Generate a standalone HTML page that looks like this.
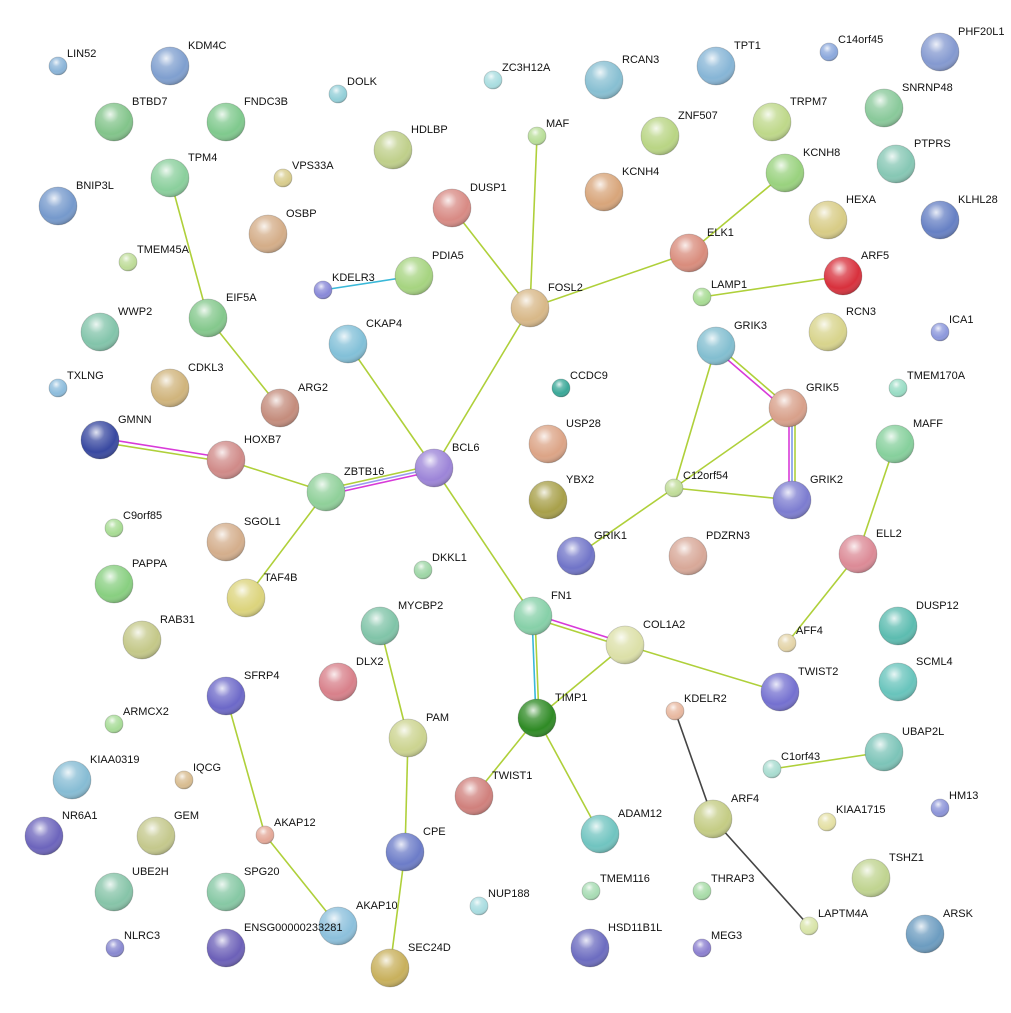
<!DOCTYPE html>
<html><head><meta charset="utf-8"><style>
html,body{margin:0;padding:0;background:#fff;}
svg{display:block;}
text{font-family:"Liberation Sans",sans-serif;font-size:11px;fill:#111;}
</style></head><body>
<svg width="1011" height="1013" viewBox="0 0 1011 1013" xmlns="http://www.w3.org/2000/svg">
<defs>
<radialGradient id="s" cx="40%" cy="30%" r="75%">
<stop offset="0" stop-color="#fff" stop-opacity="0.85"/>
<stop offset="0.3" stop-color="#fff" stop-opacity="0.25"/>
<stop offset="0.7" stop-color="#fff" stop-opacity="0"/>
<stop offset="1" stop-color="#000" stop-opacity="0.3"/>
</radialGradient>
</defs>
<g stroke="#afd03a" stroke-width="1.6" fill="none">
<line x1="537" y1="136" x2="530" y2="308"/>
<line x1="452" y1="208" x2="530" y2="308"/>
<line x1="689" y1="253" x2="530" y2="308"/>
<line x1="689" y1="253" x2="785" y2="173"/>
<line x1="530" y1="308" x2="434" y2="468"/>
<line x1="702" y1="297" x2="843" y2="276"/>
<line x1="170" y1="178" x2="208" y2="318"/>
<line x1="208" y1="318" x2="280" y2="408"/>
<line x1="348" y1="344" x2="434" y2="468"/>
<line x1="100" y1="442" x2="226" y2="462"/>
<line x1="226" y1="460" x2="326" y2="492"/>
<line x1="326" y1="489" x2="434" y2="465"/>
<line x1="326" y1="492" x2="246" y2="598"/>
<line x1="434" y1="468" x2="533" y2="616"/>
<line x1="718" y1="346" x2="790" y2="408"/>
<line x1="795" y1="408" x2="795" y2="500"/>
<line x1="716" y1="346" x2="674" y2="488"/>
<line x1="788" y1="408" x2="674" y2="488"/>
<line x1="674" y1="488" x2="792" y2="500"/>
<line x1="674" y1="488" x2="576" y2="556"/>
<line x1="895" y1="444" x2="858" y2="554"/>
<line x1="858" y1="554" x2="787" y2="643"/>
<line x1="533" y1="618" x2="625" y2="647"/>
<line x1="535" y1="616" x2="539" y2="718"/>
<line x1="625" y1="645" x2="537" y2="718"/>
<line x1="625" y1="645" x2="780" y2="692"/>
<line x1="537" y1="718" x2="474" y2="796"/>
<line x1="537" y1="718" x2="600" y2="834"/>
<line x1="380" y1="626" x2="408" y2="738"/>
<line x1="408" y1="738" x2="405" y2="852"/>
<line x1="405" y1="852" x2="390" y2="968"/>
<line x1="226" y1="696" x2="265" y2="835"/>
<line x1="265" y1="835" x2="338" y2="926"/>
<line x1="772" y1="769" x2="884" y2="752"/>
</g>
<g stroke-width="1.6" fill="none">
<line x1="323" y1="290" x2="414" y2="276" stroke="#3ab8d8"/>
<line x1="100" y1="438" x2="226" y2="458" stroke="#d83ad8"/>
<line x1="326" y1="492" x2="434" y2="468" stroke="#9a9af0"/>
<line x1="326" y1="495" x2="434" y2="471" stroke="#d83ad8"/>
<line x1="714" y1="348" x2="786" y2="410" stroke="#d83ad8"/>
<line x1="789" y1="408" x2="789" y2="500" stroke="#d83ad8"/>
<line x1="792" y1="408" x2="792" y2="500" stroke="#7f9ae8"/>
<line x1="533" y1="614" x2="625" y2="643" stroke="#d83ad8"/>
<line x1="532" y1="616" x2="536" y2="718" stroke="#3ab8d8"/>
<line x1="675" y1="711" x2="713" y2="819" stroke="#444"/>
<line x1="713" y1="819" x2="809" y2="926" stroke="#444"/>
</g>
<g stroke="rgba(0,0,0,0.2)" stroke-width="0.8">
<circle cx="58" cy="66" r="9" fill="#8ab4d8"/>
<circle cx="170" cy="66" r="19" fill="#7f9fcf"/>
<circle cx="338" cy="94" r="9" fill="#93cfd8"/>
<circle cx="493" cy="80" r="9" fill="#a9dde0"/>
<circle cx="604" cy="80" r="19" fill="#87bfd2"/>
<circle cx="716" cy="66" r="19" fill="#86b5d6"/>
<circle cx="829" cy="52" r="9" fill="#8ba8dc"/>
<circle cx="940" cy="52" r="19" fill="#8499d0"/>
<circle cx="114" cy="122" r="19" fill="#82c48a"/>
<circle cx="226" cy="122" r="19" fill="#7fc98d"/>
<circle cx="283" cy="178" r="9" fill="#d8cc8c"/>
<circle cx="393" cy="150" r="19" fill="#bfcf8a"/>
<circle cx="537" cy="136" r="9" fill="#b8de98"/>
<circle cx="660" cy="136" r="19" fill="#b9d584"/>
<circle cx="772" cy="122" r="19" fill="#bed889"/>
<circle cx="884" cy="108" r="19" fill="#89c99a"/>
<circle cx="170" cy="178" r="19" fill="#8acf9c"/>
<circle cx="604" cy="192" r="19" fill="#d8a57a"/>
<circle cx="785" cy="173" r="19" fill="#99d27e"/>
<circle cx="896" cy="164" r="19" fill="#86c7b4"/>
<circle cx="58" cy="206" r="19" fill="#7599cc"/>
<circle cx="452" cy="208" r="19" fill="#d88a84"/>
<circle cx="268" cy="234" r="19" fill="#d4ad88"/>
<circle cx="828" cy="220" r="19" fill="#d8cc86"/>
<circle cx="940" cy="220" r="19" fill="#6680c4"/>
<circle cx="128" cy="262" r="9" fill="#bedc98"/>
<circle cx="323" cy="290" r="9" fill="#8888d8"/>
<circle cx="414" cy="276" r="19" fill="#a6d480"/>
<circle cx="689" cy="253" r="19" fill="#d98c7c"/>
<circle cx="843" cy="276" r="19" fill="#d8303c"/>
<circle cx="702" cy="297" r="9" fill="#a8dc94"/>
<circle cx="530" cy="308" r="19" fill="#d8b888"/>
<circle cx="208" cy="318" r="19" fill="#84c88c"/>
<circle cx="100" cy="332" r="19" fill="#82c4aa"/>
<circle cx="348" cy="344" r="19" fill="#82c0d8"/>
<circle cx="716" cy="346" r="19" fill="#82bed0"/>
<circle cx="828" cy="332" r="19" fill="#d8d48c"/>
<circle cx="940" cy="332" r="9" fill="#8c98dc"/>
<circle cx="58" cy="388" r="9" fill="#8cbcdc"/>
<circle cx="170" cy="388" r="19" fill="#d0b47c"/>
<circle cx="561" cy="388" r="9" fill="#3aa898"/>
<circle cx="898" cy="388" r="9" fill="#98dcc4"/>
<circle cx="280" cy="408" r="19" fill="#c48c7c"/>
<circle cx="788" cy="408" r="19" fill="#d8a08a"/>
<circle cx="100" cy="440" r="19" fill="#3848a0"/>
<circle cx="226" cy="460" r="19" fill="#d08a88"/>
<circle cx="548" cy="444" r="19" fill="#dca486"/>
<circle cx="895" cy="444" r="19" fill="#86d09c"/>
<circle cx="434" cy="468" r="19" fill="#9c84d8"/>
<circle cx="326" cy="492" r="19" fill="#8fd099"/>
<circle cx="548" cy="500" r="19" fill="#a8a04a"/>
<circle cx="674" cy="488" r="9" fill="#c0dc98"/>
<circle cx="792" cy="500" r="19" fill="#7c7cd0"/>
<circle cx="114" cy="528" r="9" fill="#a8dc94"/>
<circle cx="226" cy="542" r="19" fill="#d4ae8c"/>
<circle cx="576" cy="556" r="19" fill="#7074c8"/>
<circle cx="688" cy="556" r="19" fill="#d8a898"/>
<circle cx="858" cy="554" r="19" fill="#dc8a96"/>
<circle cx="423" cy="570" r="9" fill="#9ed6a6"/>
<circle cx="114" cy="584" r="19" fill="#88cf80"/>
<circle cx="246" cy="598" r="19" fill="#dcd47c"/>
<circle cx="533" cy="616" r="19" fill="#86d0a8"/>
<circle cx="625" cy="645" r="19" fill="#dce0a8"/>
<circle cx="380" cy="626" r="19" fill="#80c4a8"/>
<circle cx="898" cy="626" r="19" fill="#5cbcb0"/>
<circle cx="142" cy="640" r="19" fill="#c4c888"/>
<circle cx="787" cy="643" r="9" fill="#e4d4a8"/>
<circle cx="338" cy="682" r="19" fill="#d8808a"/>
<circle cx="226" cy="696" r="19" fill="#6c68c8"/>
<circle cx="780" cy="692" r="19" fill="#7470d0"/>
<circle cx="898" cy="682" r="19" fill="#68c4bc"/>
<circle cx="114" cy="724" r="9" fill="#a8dc98"/>
<circle cx="408" cy="738" r="19" fill="#ccd490"/>
<circle cx="537" cy="718" r="19" fill="#2e8a24"/>
<circle cx="675" cy="711" r="9" fill="#e8b8a0"/>
<circle cx="884" cy="752" r="19" fill="#7cc4b8"/>
<circle cx="72" cy="780" r="19" fill="#86bcd4"/>
<circle cx="184" cy="780" r="9" fill="#d8bc90"/>
<circle cx="772" cy="769" r="9" fill="#a8dcd0"/>
<circle cx="474" cy="796" r="19" fill="#d0807c"/>
<circle cx="713" cy="819" r="19" fill="#c4cc84"/>
<circle cx="827" cy="822" r="9" fill="#e4e0a4"/>
<circle cx="940" cy="808" r="9" fill="#8c94d8"/>
<circle cx="44" cy="836" r="19" fill="#6c64bc"/>
<circle cx="156" cy="836" r="19" fill="#c4c88c"/>
<circle cx="265" cy="835" r="9" fill="#e4a898"/>
<circle cx="600" cy="834" r="19" fill="#70c4c0"/>
<circle cx="405" cy="852" r="19" fill="#6c7cc8"/>
<circle cx="871" cy="878" r="19" fill="#c0d490"/>
<circle cx="114" cy="892" r="19" fill="#86c4a8"/>
<circle cx="226" cy="892" r="19" fill="#86c8a4"/>
<circle cx="591" cy="891" r="9" fill="#a8dcb4"/>
<circle cx="702" cy="891" r="9" fill="#a8dca8"/>
<circle cx="479" cy="906" r="9" fill="#a8dce0"/>
<circle cx="338" cy="926" r="19" fill="#8cc0dc"/>
<circle cx="809" cy="926" r="9" fill="#d8e4a8"/>
<circle cx="925" cy="934" r="19" fill="#6c9cc0"/>
<circle cx="115" cy="948" r="9" fill="#8888d0"/>
<circle cx="226" cy="948" r="19" fill="#6c60b8"/>
<circle cx="590" cy="948" r="19" fill="#6c6cc0"/>
<circle cx="702" cy="948" r="9" fill="#8c80d0"/>
<circle cx="390" cy="968" r="19" fill="#c8b05c"/>
</g>
<g fill="url(#s)">
<circle cx="58" cy="66" r="9"/><circle cx="170" cy="66" r="19"/><circle cx="338" cy="94" r="9"/><circle cx="493" cy="80" r="9"/><circle cx="604" cy="80" r="19"/><circle cx="716" cy="66" r="19"/><circle cx="829" cy="52" r="9"/><circle cx="940" cy="52" r="19"/><circle cx="114" cy="122" r="19"/><circle cx="226" cy="122" r="19"/><circle cx="283" cy="178" r="9"/><circle cx="393" cy="150" r="19"/><circle cx="537" cy="136" r="9"/><circle cx="660" cy="136" r="19"/><circle cx="772" cy="122" r="19"/><circle cx="884" cy="108" r="19"/><circle cx="170" cy="178" r="19"/><circle cx="604" cy="192" r="19"/><circle cx="785" cy="173" r="19"/><circle cx="896" cy="164" r="19"/><circle cx="58" cy="206" r="19"/><circle cx="452" cy="208" r="19"/><circle cx="268" cy="234" r="19"/><circle cx="828" cy="220" r="19"/><circle cx="940" cy="220" r="19"/><circle cx="128" cy="262" r="9"/><circle cx="323" cy="290" r="9"/><circle cx="414" cy="276" r="19"/><circle cx="689" cy="253" r="19"/><circle cx="843" cy="276" r="19"/><circle cx="702" cy="297" r="9"/><circle cx="530" cy="308" r="19"/><circle cx="208" cy="318" r="19"/><circle cx="100" cy="332" r="19"/><circle cx="348" cy="344" r="19"/><circle cx="716" cy="346" r="19"/><circle cx="828" cy="332" r="19"/><circle cx="940" cy="332" r="9"/><circle cx="58" cy="388" r="9"/><circle cx="170" cy="388" r="19"/><circle cx="561" cy="388" r="9"/><circle cx="898" cy="388" r="9"/><circle cx="280" cy="408" r="19"/><circle cx="788" cy="408" r="19"/><circle cx="100" cy="440" r="19"/><circle cx="226" cy="460" r="19"/><circle cx="548" cy="444" r="19"/><circle cx="895" cy="444" r="19"/><circle cx="434" cy="468" r="19"/><circle cx="326" cy="492" r="19"/><circle cx="548" cy="500" r="19"/><circle cx="674" cy="488" r="9"/><circle cx="792" cy="500" r="19"/><circle cx="114" cy="528" r="9"/><circle cx="226" cy="542" r="19"/><circle cx="576" cy="556" r="19"/><circle cx="688" cy="556" r="19"/><circle cx="858" cy="554" r="19"/><circle cx="423" cy="570" r="9"/><circle cx="114" cy="584" r="19"/><circle cx="246" cy="598" r="19"/><circle cx="533" cy="616" r="19"/><circle cx="625" cy="645" r="19"/><circle cx="380" cy="626" r="19"/><circle cx="898" cy="626" r="19"/><circle cx="142" cy="640" r="19"/><circle cx="787" cy="643" r="9"/><circle cx="338" cy="682" r="19"/><circle cx="226" cy="696" r="19"/><circle cx="780" cy="692" r="19"/><circle cx="898" cy="682" r="19"/><circle cx="114" cy="724" r="9"/><circle cx="408" cy="738" r="19"/><circle cx="537" cy="718" r="19"/><circle cx="675" cy="711" r="9"/><circle cx="884" cy="752" r="19"/><circle cx="72" cy="780" r="19"/><circle cx="184" cy="780" r="9"/><circle cx="772" cy="769" r="9"/><circle cx="474" cy="796" r="19"/><circle cx="713" cy="819" r="19"/><circle cx="827" cy="822" r="9"/><circle cx="940" cy="808" r="9"/><circle cx="44" cy="836" r="19"/><circle cx="156" cy="836" r="19"/><circle cx="265" cy="835" r="9"/><circle cx="600" cy="834" r="19"/><circle cx="405" cy="852" r="19"/><circle cx="871" cy="878" r="19"/><circle cx="114" cy="892" r="19"/><circle cx="226" cy="892" r="19"/><circle cx="591" cy="891" r="9"/><circle cx="702" cy="891" r="9"/><circle cx="479" cy="906" r="9"/><circle cx="338" cy="926" r="19"/><circle cx="809" cy="926" r="9"/><circle cx="925" cy="934" r="19"/><circle cx="115" cy="948" r="9"/><circle cx="226" cy="948" r="19"/><circle cx="590" cy="948" r="19"/><circle cx="702" cy="948" r="9"/><circle cx="390" cy="968" r="19"/>
</g>
<g>
<text x="67" y="57">LIN52</text>
<text x="188" y="49">KDM4C</text>
<text x="347" y="85">DOLK</text>
<text x="502" y="71">ZC3H12A</text>
<text x="622" y="63">RCAN3</text>
<text x="734" y="49">TPT1</text>
<text x="838" y="43">C14orf45</text>
<text x="958" y="35">PHF20L1</text>
<text x="132" y="105">BTBD7</text>
<text x="244" y="105">FNDC3B</text>
<text x="292" y="169">VPS33A</text>
<text x="411" y="133">HDLBP</text>
<text x="546" y="127">MAF</text>
<text x="678" y="119">ZNF507</text>
<text x="790" y="105">TRPM7</text>
<text x="902" y="91">SNRNP48</text>
<text x="188" y="161">TPM4</text>
<text x="622" y="175">KCNH4</text>
<text x="803" y="156">KCNH8</text>
<text x="914" y="147">PTPRS</text>
<text x="76" y="189">BNIP3L</text>
<text x="470" y="191">DUSP1</text>
<text x="286" y="217">OSBP</text>
<text x="846" y="203">HEXA</text>
<text x="958" y="203">KLHL28</text>
<text x="137" y="253">TMEM45A</text>
<text x="332" y="281">KDELR3</text>
<text x="432" y="259">PDIA5</text>
<text x="707" y="236">ELK1</text>
<text x="861" y="259">ARF5</text>
<text x="711" y="288">LAMP1</text>
<text x="548" y="291">FOSL2</text>
<text x="226" y="301">EIF5A</text>
<text x="118" y="315">WWP2</text>
<text x="366" y="327">CKAP4</text>
<text x="734" y="329">GRIK3</text>
<text x="846" y="315">RCN3</text>
<text x="949" y="323">ICA1</text>
<text x="67" y="379">TXLNG</text>
<text x="188" y="371">CDKL3</text>
<text x="570" y="379">CCDC9</text>
<text x="907" y="379">TMEM170A</text>
<text x="298" y="391">ARG2</text>
<text x="806" y="391">GRIK5</text>
<text x="118" y="423">GMNN</text>
<text x="244" y="443">HOXB7</text>
<text x="566" y="427">USP28</text>
<text x="913" y="427">MAFF</text>
<text x="452" y="451">BCL6</text>
<text x="344" y="475">ZBTB16</text>
<text x="566" y="483">YBX2</text>
<text x="683" y="479">C12orf54</text>
<text x="810" y="483">GRIK2</text>
<text x="123" y="519">C9orf85</text>
<text x="244" y="525">SGOL1</text>
<text x="594" y="539">GRIK1</text>
<text x="706" y="539">PDZRN3</text>
<text x="876" y="537">ELL2</text>
<text x="432" y="561">DKKL1</text>
<text x="132" y="567">PAPPA</text>
<text x="264" y="581">TAF4B</text>
<text x="551" y="599">FN1</text>
<text x="643" y="628">COL1A2</text>
<text x="398" y="609">MYCBP2</text>
<text x="916" y="609">DUSP12</text>
<text x="160" y="623">RAB31</text>
<text x="796" y="634">AFF4</text>
<text x="356" y="665">DLX2</text>
<text x="244" y="679">SFRP4</text>
<text x="798" y="675">TWIST2</text>
<text x="916" y="665">SCML4</text>
<text x="123" y="715">ARMCX2</text>
<text x="426" y="721">PAM</text>
<text x="555" y="701">TIMP1</text>
<text x="684" y="702">KDELR2</text>
<text x="902" y="735">UBAP2L</text>
<text x="90" y="763">KIAA0319</text>
<text x="193" y="771">IQCG</text>
<text x="781" y="760">C1orf43</text>
<text x="492" y="779">TWIST1</text>
<text x="731" y="802">ARF4</text>
<text x="836" y="813">KIAA1715</text>
<text x="949" y="799">HM13</text>
<text x="62" y="819">NR6A1</text>
<text x="174" y="819">GEM</text>
<text x="274" y="826">AKAP12</text>
<text x="618" y="817">ADAM12</text>
<text x="423" y="835">CPE</text>
<text x="889" y="861">TSHZ1</text>
<text x="132" y="875">UBE2H</text>
<text x="244" y="875">SPG20</text>
<text x="600" y="882">TMEM116</text>
<text x="711" y="882">THRAP3</text>
<text x="488" y="897">NUP188</text>
<text x="356" y="909">AKAP10</text>
<text x="818" y="917">LAPTM4A</text>
<text x="943" y="917">ARSK</text>
<text x="124" y="939">NLRC3</text>
<text x="244" y="931">ENSG00000233281</text>
<text x="608" y="931">HSD11B1L</text>
<text x="711" y="939">MEG3</text>
<text x="408" y="951">SEC24D</text>
</g>
</svg>
</body></html>
